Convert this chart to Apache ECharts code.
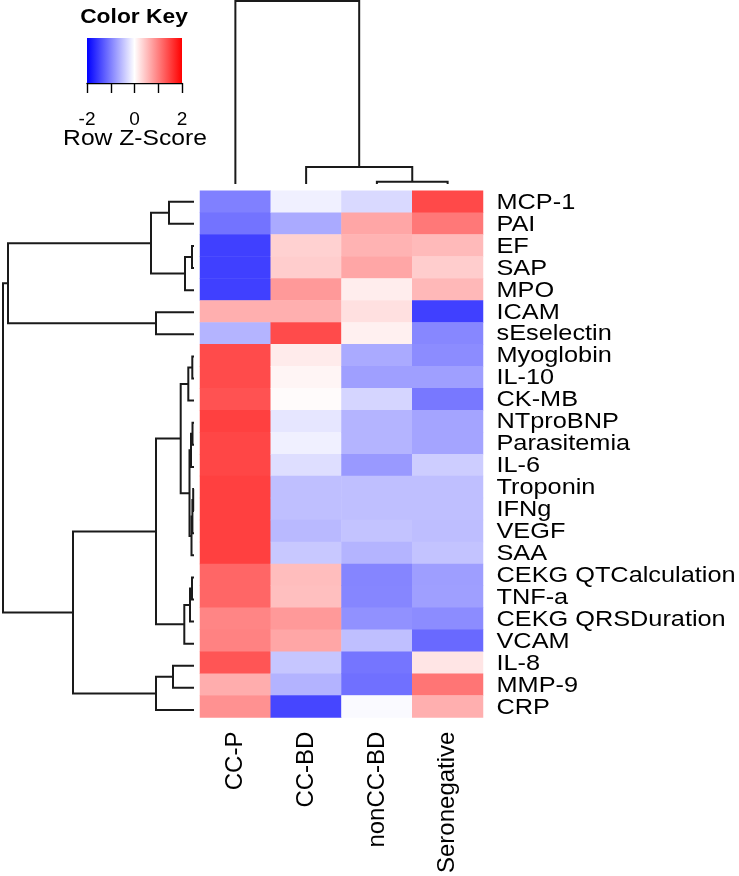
<!DOCTYPE html>
<html>
<head>
<meta charset="utf-8">
<script src="https://cdn.jsdelivr.net/npm/echarts@6/dist/echarts.min.js"></script>
<style>html,body{margin:0;padding:0;background:#fff;}#c{width:739px;height:876px;}</style>
</head>
<body>
<div id="c"></div>
<script>
// ---- data ----
const columns = ['CC-P', 'CC-BD', 'nonCC-BD', 'Seronegative'];
const rows = ['MCP-1','PAI','EF','SAP','MPO','ICAM','sEselectin','Myoglobin','IL-10','CK-MB',
  'NTproBNP','Parasitemia','IL-6','Troponin','IFNg','VEGF','SAA','CEKG QTCalculation','TNF-a',
  'CEKG QRSDuration','VCAM','IL-8','MMP-9','CRP'];
const zCCP     = [-1.0,-1.1,-1.5,-1.5,-1.5,0.63,-0.59,1.41,1.41,1.36,1.5,1.45,1.45,1.5,1.5,1.5,1.5,1.2,1.2,0.96,0.98,1.33,0.64,0.86];
const zCCBD    = [-0.12,-0.67,0.36,0.39,0.8,0.63,1.41,0.16,0.08,0.03,-0.2,-0.12,-0.26,-0.5,-0.5,-0.55,-0.43,0.52,0.5,0.8,0.7,-0.45,-0.6,-1.45];
const zNonCCBD = [-0.3,0.7,0.6,0.7,0.14,0.24,0.12,-0.67,-0.75,-0.33,-0.59,-0.59,-0.8,-0.5,-0.5,-0.47,-0.59,-0.96,-0.95,-0.86,-0.5,-1.08,-1.12,-0.04];
const zSero    = [1.43,1.06,0.54,0.39,0.56,-1.5,-0.94,-0.9,-0.75,-1.06,-0.71,-0.71,-0.39,-0.5,-0.5,-0.51,-0.47,-0.76,-0.75,-0.9,-1.18,0.2,1.08,0.63];
// dendrogram merges: [a, b, height]; negative = leaf (1-based display order), positive = earlier merge
const rowMerge = [
  [-14,-15,0.8],[-8,-9,1.7],[-11,-12,1.5],[-3,-4,2],[-18,-19,2],[1,-16,1.6],[6,-17,2.5],
  [3,-13,3],[5,-20,4],[8,7,4.5],[2,-10,5.7],[4,-5,9],[9,-21,9.7],[11,10,13.3],[-22,-23,21],
  [-1,-2,25],[14,13,38],[-6,-7,38],[15,-24,38],[16,12,43],[17,19,121],[20,18,186],[22,21,191]
];
const colMerge = [[-3,-4,2.3],[-2,1,17],[-1,2,183]];
const keyTicks = [-2,-1,0,1,2];
const keyLabels = [-2, 0, 2];
const keyColors = ['#0000ff','#ffffff','#ff0000'];

// ---- build ----
const zCols = [zCCP, zCCBD, zNonCCBD, zSero];
const heatData = [];
zCols.forEach((arr, c) => arr.forEach((v, r) => heatData.push([c, r, v])));

function treeSegments(merge) {
  const pos = [], ht = [], segs = [];
  function get(i) { return i < 0 ? [-i - 1, 0] : [pos[i - 1], ht[i - 1]]; }
  merge.forEach(m => {
    const A = get(m[0]), B = get(m[1]);
    pos.push((A[0] + B[0]) / 2); ht.push(m[2]);
    segs.push([A[0], A[1], m[2], B[0], B[1]]);
  });
  return segs;
}
const rowSegs = treeSegments(rowMerge);
const colSegs = treeSegments(colMerge);

const FONT = "'Liberation Sans', Arial, Helvetica, sans-serif";
const LINE = { stroke: '#1a1a1a', lineWidth: 2, fill: null };

const chart = echarts.init(document.getElementById('c'), null, { renderer: 'canvas' });
chart.setOption({
  backgroundColor: '#ffffff',
  animation: false,
  grid: [
    { left: 200, top: 190.7, width: 283, height: 530.3 },
    { left: 0, top: 190.7, width: 194, height: 530.3 },
    { left: 200, top: 0, width: 283, height: 184 },
    { left: 87, top: 38, width: 95, height: 45 }
  ],
  xAxis: [
    { type: 'category', gridIndex: 0, data: columns, position: 'bottom',
      axisLine: { show: false }, axisTick: { show: false },
      axisLabel: { rotate: 90, fontSize: 24, margin: 14, color: '#000', fontFamily: FONT } },
    { type: 'value', gridIndex: 1, min: 0, max: 194, inverse: true, show: false },
    { type: 'value', gridIndex: 2, min: -0.5, max: 3.5, show: false },
    { type: 'value', gridIndex: 3, min: -2, max: 2, interval: 1, position: 'bottom', offset: 2,
      axisLine: { show: true, lineStyle: { color: '#000', width: 1.4 } },
      axisTick: { show: true, length: 10, lineStyle: { color: '#000', width: 1.4 } },
      splitLine: { show: false },
      axisLabel: { show: false } }
  ],
  yAxis: [
    { type: 'category', gridIndex: 0, data: rows, inverse: true, show: false },
    { type: 'value', gridIndex: 1, min: -0.5, max: 23.5, inverse: true, show: false },
    { type: 'value', gridIndex: 2, min: 0, max: 184, show: false },
    { type: 'value', gridIndex: 3, min: 0, max: 1, show: false }
  ],
  visualMap: {
    show: false, seriesIndex: 0, min: -2, max: 2, dimension: 2,
    inRange: { color: keyColors }
  },
  series: [
    { type: 'heatmap', xAxisIndex: 0, yAxisIndex: 0, data: heatData,
      itemStyle: { borderWidth: 0 }, emphasis: { disabled: true } },
    { type: 'custom', xAxisIndex: 0, yAxisIndex: 0, silent: true,
      data: rows.map((r, i) => [3, i]),
      renderItem: function (params, api) {
        const p = api.coord([3, api.value(1)]);
        const bw = api.size([1, 0])[0];
        return { type: 'text', x: p[0] + bw / 2 + 13.5, y: p[1] + 1, scaleX: 1.15,
          style: { text: rows[params.dataIndex], fontSize: 22, fontFamily: FONT, fill: '#000',
            align: 'left', textAlign: 'left', verticalAlign: 'middle', textVerticalAlign: 'middle' } };
      } },
    { type: 'custom', xAxisIndex: 1, yAxisIndex: 1, silent: true, data: rowSegs,
      renderItem: function (params, api) {
        const pA = api.value(0), hA = api.value(1), h = api.value(2), pB = api.value(3), hB = api.value(4);
        const pts = [[hA, pA], [h, pA], [h, pB], [hB, pB]].map(d => api.coord(d));
        return { type: 'polyline', shape: { points: pts }, style: LINE };
      } },
    { type: 'custom', xAxisIndex: 2, yAxisIndex: 2, silent: true, data: colSegs,
      renderItem: function (params, api) {
        const pA = api.value(0), hA = api.value(1), h = api.value(2), pB = api.value(3), hB = api.value(4);
        const pts = [[pA, hA], [pA, h], [pB, h], [pB, hB]].map(d => api.coord(d));
        return { type: 'polyline', shape: { points: pts }, style: LINE };
      } },
    { type: 'custom', xAxisIndex: 3, yAxisIndex: 3, silent: true, data: [[keyTicks[0], keyTicks[keyTicks.length - 1]]],
      renderItem: function (params, api) {
        const a = api.coord([api.value(0), 1]), b = api.coord([api.value(1), 0]);
        return { type: 'rect', shape: { x: a[0], y: a[1], width: b[0] - a[0], height: b[1] - a[1] },
          style: { fill: new echarts.graphic.LinearGradient(0, 0, 1, 0,
            keyColors.map((c, i) => ({ offset: i / (keyColors.length - 1), color: c }))) } };
      } },
    { type: 'custom', xAxisIndex: 3, yAxisIndex: 3, silent: true, data: keyLabels.map(v => [v, 0]),
      renderItem: function (params, api) {
        const p = api.coord([api.value(0), 0]);
        return { type: 'text', x: p[0], y: p[1] + 37,
          style: { text: String(keyLabels[params.dataIndex]), fontSize: 19, fontFamily: FONT, fill: '#000',
            align: 'center', textAlign: 'center', verticalAlign: 'middle', textVerticalAlign: 'middle' } };
      } }
  ],
  graphic: [
    { type: 'text', x: 134, y: 17, scaleX: 1.14,
      style: { text: 'Color Key', fontSize: 20, fontWeight: 'bold', fontFamily: FONT, fill: '#000',
        align: 'center', textAlign: 'center', verticalAlign: 'middle', textVerticalAlign: 'middle' } },
    { type: 'text', x: 135, y: 139, scaleX: 1.12,
      style: { text: 'Row Z-Score', fontSize: 22, fontFamily: FONT, fill: '#000',
        align: 'center', textAlign: 'center', verticalAlign: 'middle', textVerticalAlign: 'middle' } }
  ]
});
</script>
</body>
</html>
